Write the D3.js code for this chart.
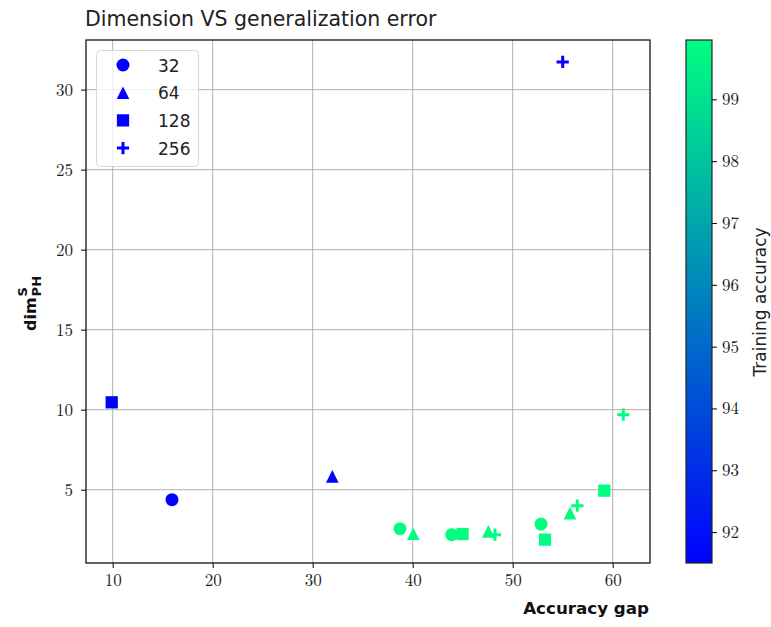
<!DOCTYPE html>
<html><head><meta charset="utf-8">
<script src="https://cdn.jsdelivr.net/npm/d3@7"></script>
<style>body{margin:0;background:#fff;} svg{display:block;}</style>
</head><body><svg id="c" width="771" height="627"></svg>
<script>
// ---- data ----
const batchSizes = [32, 64, 128, 256];
const accuracyGap = [9.9, 15.93, 31.96, 55.0, 38.73, 40.06, 43.9, 44.99, 47.56, 48.23, 52.83, 53.23, 55.73, 56.46, 59.16, 61.06];
const dimPH      = [10.46, 4.375, 5.83, 31.73, 2.56, 2.25, 2.19, 2.23, 2.4, 2.19, 2.85, 1.88, 3.54, 4.0, 4.94, 9.69];
const batch      = [128, 32, 64, 256, 32, 64, 32, 128, 64, 256, 32, 128, 64, 256, 128, 256];
const trainAcc   = [91.5, 91.55, 91.6, 91.52, 99.9, 99.92, 99.94, 99.93, 99.9, 99.95, 99.91, 99.96, 99.89, 99.93, 99.92, 99.9];
const xTicks = [10, 20, 30, 40, 50, 60];
const yTicks = [5, 10, 15, 20, 25, 30];
const cTicks = [92, 93, 94, 95, 96, 97, 98, 99];

const svg = d3.select("#c");
const L = 86, R = 650, T = 40, B = 563;
const x = d3.scaleLinear().domain([7.33, 63.73]).range([L, R]);
const y = d3.scaleLinear().domain([0.42, 33.1]).range([B, T]);
const cmin = d3.min(trainAcc), cmax = d3.max(trainAcc);
const winter = t => d3.rgb(0, Math.round(255 * t), Math.round(255 * (1 - 0.5 * t))).toString();
const color = v => winter((v - cmin) / (cmax - cmin));

const serif = "'Latin Modern Roman','CMU Serif','Liberation Serif','DejaVu Serif',serif";
const sans = "'DejaVu Sans', sans-serif";

// title
svg.append("text").attr("x", L - 1).attr("y", 26).attr("font-family", sans)
  .attr("font-size", 20.5).attr("fill", "#222").text("Dimension VS generalization error");

// grid
const g = svg.append("g");
g.selectAll(".gx").data(xTicks).join("line").attr("x1", d => x(d)).attr("x2", d => x(d))
  .attr("y1", T).attr("y2", B).attr("stroke", "#b0b0b0").attr("stroke-width", 1);
g.selectAll(".gy").data(yTicks).join("line").attr("y1", d => y(d)).attr("y2", d => y(d))
  .attr("x1", L).attr("x2", R).attr("stroke", "#b0b0b0").attr("stroke-width", 1);

// axes
const xa = svg.append("g").attr("transform", `translate(0,${B})`)
  .call(d3.axisBottom(x).tickValues(xTicks).tickSize(5).tickPadding(6).tickSizeOuter(0));
const ya = svg.append("g").attr("transform", `translate(${L},0)`)
  .call(d3.axisLeft(y).tickValues(yTicks).tickSize(5).tickPadding(8).tickSizeOuter(0));
[xa, ya].forEach(a => {
  a.select(".domain").remove();
  a.selectAll("text").attr("font-family", serif).attr("font-size", 17).attr("fill", "#222");
  a.selectAll("line").attr("stroke", "#000").attr("stroke-width", 1);
});

// markers
const plusType = { draw(ctx, size) { const r = Math.sqrt(size) / 2; ctx.moveTo(-r, 0); ctx.lineTo(r, 0); ctx.moveTo(0, -r); ctx.lineTo(0, r); } };
const triType = { draw(ctx, size) { const r = Math.sqrt(size) / 2; ctx.moveTo(0, -r); ctx.lineTo(r, r); ctx.lineTo(-r, r); ctx.closePath(); } };
const shape = {
  32: d3.symbol().type(d3.symbolCircle).size(133),
  64: d3.symbol().type(triType).size(160),
  128: d3.symbol().type(d3.symbolSquare).size(150),
  256: d3.symbol().type(plusType).size(150)
};
const pts = accuracyGap.map((v, i) => ({ x: v, y: dimPH[i], b: batch[i], c: trainAcc[i] }));
svg.append("g").selectAll("path").data(pts).join("path")
  .attr("transform", d => `translate(${x(d.x)},${y(d.y)})`)
  .attr("d", d => shape[d.b]())
  .attr("fill", d => d.b === 256 ? "none" : color(d.c))
  .attr("stroke", d => d.b === 256 ? color(d.c) : "none")
  .attr("stroke-width", 3);

// frame
svg.append("rect").attr("x", L).attr("y", T).attr("width", R - L).attr("height", B - T)
  .attr("fill", "none").attr("stroke", "#000").attr("stroke-width", 1.2);

// legend
const lg = svg.append("g");
lg.append("rect").attr("x", 96.5).attr("y", 50.5).attr("width", 102).attr("height", 116).attr("rx", 4)
  .attr("fill", "rgba(255,255,255,0.8)").attr("stroke", "#d6d6d6");
batchSizes.forEach((b, i) => {
  const yy = 65 + i * 27.7;
  lg.append("path").attr("transform", `translate(123,${yy})`).attr("d", shape[b]())
    .attr("fill", b === 256 ? "none" : "#0000ff").attr("stroke", b === 256 ? "#0000ff" : "none").attr("stroke-width", 3);
  lg.append("text").attr("x", 158).attr("y", yy + 6.5).attr("font-family", sans).attr("font-size", 17)
    .attr("fill", "#222").text(b);
});

// x label
svg.append("text").attr("x", R - 1).attr("y", 614).attr("text-anchor", "end").attr("font-family", sans)
  .attr("font-weight", "bold").attr("font-size", 16.7).attr("fill", "#111").text("Accuracy gap");

// y label dim^S_PH
const yl = svg.append("g").attr("transform", "translate(36,331) rotate(-90)");
const dimT = yl.append("text").attr("x", 0).attr("y", 0).attr("font-family", sans).attr("font-weight", "bold")
  .attr("font-size", 16).attr("fill", "#111").text("dim");
const w = dimT.node().getComputedTextLength();
yl.append("text").attr("x", w + 1).attr("y", -9).attr("font-family", sans).attr("font-weight", "bold")
  .attr("font-size", 13).attr("fill", "#111").text("S");
yl.append("text").attr("x", w + 1).attr("y", 5).attr("font-family", sans).attr("font-weight", "bold")
  .attr("font-size", 13).attr("fill", "#111").text("PH");

// colorbar
const CL = 686, CR = 712;
const cy = d3.scaleLinear().domain([cmin, cmax]).range([563, 40]);
const defs = svg.append("defs");
const grad = defs.append("linearGradient").attr("id", "cg").attr("x1", 0).attr("y1", 1).attr("x2", 0).attr("y2", 0);
d3.range(0, 1.0001, 0.05).forEach(t => grad.append("stop").attr("offset", t).attr("stop-color", winter(t)));
svg.append("rect").attr("x", CL).attr("y", 40).attr("width", CR - CL).attr("height", 523)
  .attr("fill", "url(#cg)").attr("stroke", "#222").attr("stroke-width", 1.2);
const ca = svg.append("g").attr("transform", `translate(${CR},0)`)
  .call(d3.axisRight(cy).tickValues(cTicks).tickSize(5).tickPadding(5).tickSizeOuter(0));
ca.select(".domain").remove();
ca.selectAll("text").attr("font-family", serif).attr("font-size", 17).attr("fill", "#222");
ca.selectAll("line").attr("stroke", "#000");
svg.append("text").attr("transform", "translate(766,302) rotate(-90)").attr("text-anchor", "middle")
  .attr("font-family", sans).attr("font-size", 17).attr("fill", "#222").text("Training accuracy");
</script></body></html>
